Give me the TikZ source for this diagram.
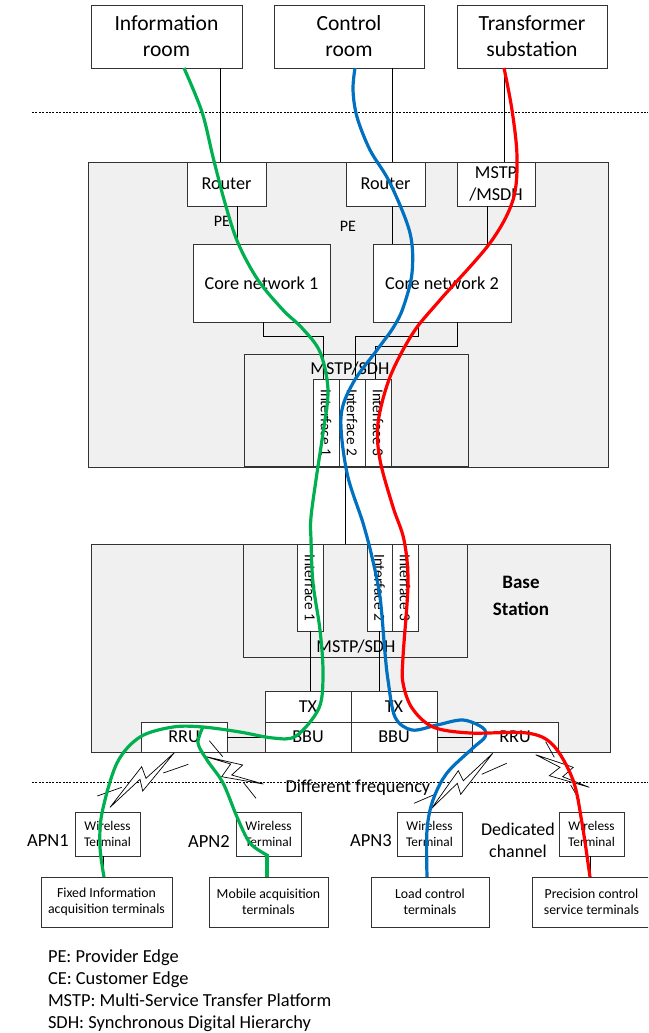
\documentclass[tikz,border=0pt]{standalone}
\usepackage{fontspec}
\setmainfont{Carlito}
\usetikzlibrary{calc}
\definecolor{panel}{HTML}{F0F0F0}
\definecolor{edge}{HTML}{333333}
\definecolor{cgreen}{HTML}{00B050}
\definecolor{cblue}{HTML}{0070C0}
\definecolor{cred}{HTML}{FF0000}
\newcommand{\fs}[2]{\fontsize{#1}{#2}\selectfont}
\newcommand{\bx}[7]{%
  \pgfmathsetmacro{\bw}{#4-#2}\pgfmathsetmacro{\bh}{#5-#3}%
  \node[#6,minimum width=\bw pt,minimum height=\bh pt] (#1) at ({(#2+#4)/2},{(#3+#5)/2}) {#7};}
\tikzset{
  base/.style={draw=edge,line width=0.9pt,inner sep=0pt,outer sep=0pt,align=center,rectangle},
  whitebox/.style={base,fill=white},
  greybox/.style={base,fill=panel},
  roomtxt/.style={font=\fs{21.6}{26}},
  midtxt/.style={font=\fs{18.2}{22}},
  wtxt/.style={font=\fs{13.3}{16}},
  termtxt/.style={font=\fs{13.8}{16}},
  plain/.style={inner sep=0pt,outer sep=0pt,align=center},
  wire/.style={draw=black,line width=0.9pt},
  sep/.style={draw=black,line width=0.9pt,dash pattern=on 2pt off 1.4pt},
  bolt/.style={draw=black,line width=0.7pt,fill=white,line join=miter},
  tick/.style={draw=black,line width=0.7pt},
  route/.style={line width=3.2pt,line cap=butt,line join=round,smooth,tension=0.55},
}
\begin{document}
\begin{tikzpicture}[x=1pt,y=-1pt]
\useasboundingbox (0,0) rectangle (648,1033);
\clip (0,0) rectangle (648,1033);
% panels
\bx{core}{88}{162}{608}{467}{greybox}{}
\bx{bs}{91}{544}{610}{752}{greybox}{}
% separators
\coordinate (s1a) at (32,112); \coordinate (s1b) at (648,112);
\coordinate (s2a) at (32,782); \coordinate (s2b) at (648,782);
\draw[sep] (s1a) -- (s1b);
\draw[sep] (s2a) -- (s2b);
% rooms
\bx{info}{91}{5}{242}{68}{whitebox,roomtxt}{Information\\room}
\bx{ctrl}{274}{5}{424}{68}{whitebox,roomtxt}{Control\\room}
\bx{trans}{457}{5}{607}{68}{whitebox,roomtxt}{Transformer\\substation}
% routers
\bx{r1}{187}{162}{266}{206}{whitebox,midtxt}{Router}
\bx{r2}{346}{162}{425}{206}{whitebox,midtxt}{Router}
\bx{m1}{457}{162}{535}{206}{whitebox,midtxt}{MSTP\\/MSDH}
% core networks
\bx{c1}{193}{244}{330}{322}{whitebox,midtxt}{Core network 1}
\bx{c2}{373}{244}{511}{322}{whitebox,midtxt}{Core network 2}
% upper MSTP
\bx{um}{244}{354}{468}{466}{greybox}{}
\node[plain,midtxt] (umt) at (350,369) {MSTP/SDH};
\bx{ui1}{313}{379}{339}{466}{whitebox}{\rotatebox{-90}{\fs{15.3}{16}Interface 1}}
\bx{ui2}{339}{379}{365}{466}{whitebox}{\rotatebox{-90}{\fs{15.3}{16}Interface 2}}
\bx{ui3}{365}{379}{391}{466}{whitebox}{\rotatebox{-90}{\fs{15.3}{16}Interface 3}}
% lower MSTP
\bx{lm}{243}{544}{467}{657}{greybox}{}
\node[plain,midtxt] (lmt) at (356,647) {MSTP/SDH};
\bx{li1}{297}{544}{323}{631}{whitebox}{\rotatebox{-90}{\fs{15.3}{16}Interface 1}}
\bx{li2}{367}{544}{392}{631}{whitebox}{\rotatebox{-90}{\fs{15.3}{16}Interface 2}}
\bx{li3}{392}{544}{418}{631}{whitebox}{\rotatebox{-90}{\fs{15.3}{16}Interface 3}}
\node[plain,font=\fs{19}{27}\bfseries] (bst) at (521,595.5) {Base\\Station};
% TX/BBU/RRU
\bx{tx1}{265}{691}{351}{722}{whitebox,midtxt}{TX}
\bx{tx2}{351}{691}{437}{722}{whitebox,midtxt}{TX}
\bx{bbu1}{265}{722}{351}{752}{whitebox,midtxt}{BBU}
\bx{bbu2}{351}{722}{437}{752}{whitebox,midtxt}{BBU}
\bx{rru1}{141}{722}{227}{752}{whitebox,midtxt}{RRU}
\bx{rru2}{472}{722}{558}{752}{whitebox,midtxt}{RRU}
% wireless terminals
\bx{w1}{75}{812}{140}{856}{whitebox,wtxt}{Wireless\\Terminal}
\bx{w2}{236}{812}{301}{856}{whitebox,wtxt}{Wireless\\Terminal}
\bx{w3}{397}{812}{462}{856}{whitebox,wtxt}{Wireless\\Terminal}
\bx{w4}{559}{812}{624}{856}{whitebox,wtxt}{Wireless\\Terminal}
% terminals
\bx{t1}{41}{877}{172}{927}{whitebox,termtxt}{Fixed Information\\acquisition terminals}
\bx{t2}{209}{877}{328}{927}{whitebox,termtxt}{Mobile acquisition\\terminals}
\bx{t3}{371}{877}{489}{927}{whitebox,termtxt}{Load control\\terminals}
\bx{t4}{532}{877}{651}{927}{whitebox,termtxt}{Precision control\\service terminals}
% plain wires
\coordinate (a1) at (220,68); \draw[wire] (a1) -- (a1 |- r1.north);
\coordinate (a2) at (392,68); \draw[wire] (a2) -- (a2 |- r2.north);
\coordinate (a3) at (504,68); \draw[wire] (a3) -- (a3 |- m1.north);
\coordinate (b1) at (237,206); \draw[wire] (b1) -- (b1 |- c1.north);
\coordinate (b2) at (392,206); \draw[wire] (b2) -- (b2 |- c2.north);
\coordinate (b3) at (487,206); \draw[wire] (b3) -- (b3 |- c2.north);
\coordinate (d1) at (263,322); \coordinate (d1b) at (323,336);
\draw[wire] (d1) |- (d1b) -- (d1b |- ui1.north);
\coordinate (d2) at (418,322); \coordinate (d2b) at (355,336);
\draw[wire] (d2) |- (d2b) -- (d2b |- ui2.north);
\coordinate (d3) at (457,322); \coordinate (d3b) at (375,346);
\draw[wire] (d3) |- (d3b) -- (d3b |- ui3.north);
\coordinate (e1) at (345,466); \draw[wire] (e1) -- (e1 |- bs.north);
\coordinate (f1) at (310.5,631); \draw[wire] (f1) -- (f1 |- tx1.north);
\coordinate (f2) at (379.5,631); \draw[wire] (f2) -- (f2 |- tx2.north);
\draw[wire] (rru1.east) -- (bbu1.west |- rru1.east);
\draw[wire] (rru2.west) -- (bbu2.east |- rru2.west);
\coordinate (g1) at (103,856); \draw[wire] (g1) -- (g1 |- t1.north);
\coordinate (g2) at (268,856); \draw[wire] (g2) -- (g2 |- t2.north);
\coordinate (g3) at (427,856); \draw[wire] (g3) -- (g3 |- t3.north);
\coordinate (g4) at (590,856); \draw[wire] (g4) -- (g4 |- t4.north);
% labels
\node[plain,font=\fs{16}{16}] (pe1) at (222,221) {PE};
\node[plain,font=\fs{16}{16}] (pe2) at (348,226) {PE};
\node[plain,font=\fs{18.3}{22}] (df) at (358,788) {Different frequency};
\node[plain,font=\fs{18.5}{22}] (apn1) at (48,841) {APN1};
\node[plain,font=\fs{18.5}{22}] (apn2) at (209,841) {APN2};
\node[plain,font=\fs{18.5}{22}] (apn3) at (371,841) {APN3};
\node[plain,font=\fs{18}{22}] (ded) at (518,840) {Dedicated\\channel};
\node[plain,font=\fs{18.4}{22},align=left,anchor=north west] (legend) at (48,949.5) {PE: Provider Edge\\CE: Customer Edge\\MSTP: Multi-Service Transfer Platform\\SDH: Synchronous Digital Hierarchy};
% lightning bolts
\draw[bolt] (174.3,752.7) -- (142.7,791) -- (140,779.3) -- (110,807.3) -- (141.7,766.7) -- (146,778.3) -- cycle;
\draw[tick] (163.3,773) -- (188.3,764.3);
\draw[tick] (97.3,796) -- (121.7,787.3);
\draw[bolt] (203.3,756) -- (242.7,765) -- (231.7,775) -- (263.3,784) -- (221.7,776.7) -- (230.7,764) -- cycle;
\draw[tick] (209.3,740.7) -- (222.7,756.7);
\draw[tick] (243.3,782.3) -- (256,798.3);
\draw[bolt] (492.7,753.3) -- (460.7,794.3) -- (457.3,783.3) -- (431.7,808.3) -- (458.3,770.7) -- (463.3,780.7) -- cycle;
\draw[tick] (481.7,774.3) -- (506.7,763.3);
\draw[tick] (414,803.3) -- (435,794.3);
\draw[bolt] (535.7,754.7) -- (573.3,767.3) -- (562.7,776.7) -- (589.3,787.3) -- (549.3,775.7) -- (560,767.3) -- cycle;
\draw[tick] (545.7,741.7) -- (554.3,757.3);
\draw[tick] (570.7,785) -- (579.3,800);
% coloured routes
\coordinate (gs) at (184,68);
\coordinate (ge1) at (104,877);
\coordinate (ge2) at (267,877);
\coordinate (bls) at (355,68);
\coordinate (ble) at (427,877);
\coordinate (rs) at (504,68);
\coordinate (re) at (590,877);
\draw[route,draw=cgreen] plot coordinates {(gs) (202,112) (213,157) (225,203) (238,243) (258,280) (283,310) (302,328) (320,352) (328,390) (323,433) (317,473) (311,517) (311,540) (313,583) (320,630) (323,673) (319,708) (296,736) (273,738) (240,732) (203,727) (173,727) (140,737) (117,763) (102,813) (100,847) (ge1)};
\draw[route,draw=cgreen] plot coordinates {(203,727) (198,743) (207,760) (223,783) (237,817) (250,843) (267,855)};
\draw[line width=3.2pt,draw=cgreen] (267,854) -- (ge2);
\draw[route,draw=cblue] plot coordinates {(bls) (353,90) (357,117) (370,150) (390,183) (410,233) (412,273) (403,308) (393,328) (377,350) (353,383) (341,417) (347,473) (363,523) (372,557) (380,597) (385,653) (388,680) (395,717) (412,730) (437,725) (463,720) (483,728) (485,737) (473,748) (447,773) (433,800) (427,830) (ble)};
\draw[route,draw=cred] plot coordinates {(rs) (512,110) (517,157) (513,200) (490,243) (440,300) (413,333) (390,377) (378,423) (380,460) (393,507) (404,540) (408,583) (403,657) (403,683) (412,708) (433,727) (470,733) (527,733) (553,745) (573,780) (582,823) (re)};
\end{tikzpicture}
\end{document}
